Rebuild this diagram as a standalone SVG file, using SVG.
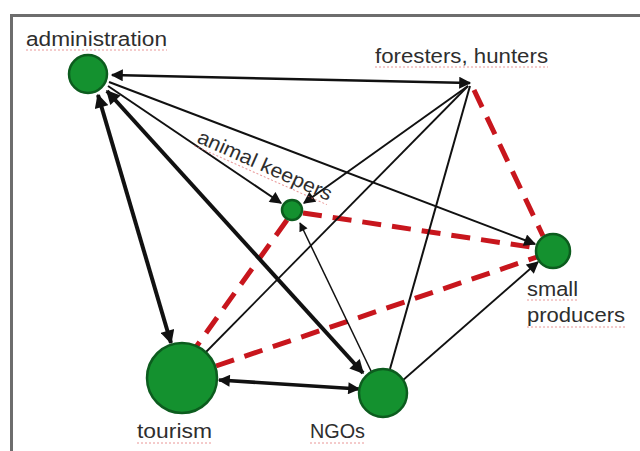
<svg xmlns="http://www.w3.org/2000/svg" width="640" height="451" viewBox="0 0 640 451">
<style>
.lbl{font-family:"Liberation Sans","Open Sans",Arial,sans-serif;font-size:20px;fill:#2e2e2e}
.sq{stroke:#e06a6a;stroke-width:1;stroke-dasharray:2 2;opacity:.7;fill:none}
.e{stroke:#111;fill:none;stroke-linecap:butt}
.d{stroke:#c8161d;stroke-width:5;stroke-dasharray:19 11;fill:none}
.n{fill:#14912f;stroke:#0c5c1e;stroke-width:2.5}
</style>
<defs>
<marker id="aL" viewBox="0 0 10 10" refX="9" refY="5" markerWidth="16" markerHeight="14" markerUnits="userSpaceOnUse" orient="auto-start-reverse"><path d="M0,0 L10,5 L0,10 z" fill="#111"/></marker>
<marker id="aM" viewBox="0 0 10 10" refX="9" refY="5" markerWidth="13" markerHeight="12" markerUnits="userSpaceOnUse" orient="auto-start-reverse"><path d="M0,0 L10,5 L0,10 z" fill="#111"/></marker>
<marker id="aS" viewBox="0 0 10 10" refX="9" refY="5" markerWidth="10" markerHeight="9" markerUnits="userSpaceOnUse" orient="auto-start-reverse"><path d="M0,0 L10,5 L0,10 z" fill="#111"/></marker>
</defs>
<rect width="640" height="451" fill="#fff"/>
<path d="M11.5,451 V15.5 H640" fill="none" stroke="#6d6d6d" stroke-width="3"/>
<g id="connectors">
<line class="d" x1="474" y1="90" x2="543" y2="236"/>
<line class="d" x1="303" y1="213" x2="537" y2="248"/>
<line class="d" x1="287" y1="220" x2="196" y2="347"/>
<line class="d" x1="216" y1="366" x2="537" y2="257"/>
<line class="e" stroke-width="2.5" x1="112" y1="75" x2="470" y2="83" marker-start="url(#aM)" marker-end="url(#aM)"/>
<line class="e" stroke-width="2" x1="108" y1="86" x2="281" y2="203" marker-end="url(#aM)"/>
<line class="e" stroke-width="2" x1="109" y1="82" x2="535" y2="244" marker-end="url(#aM)"/>
<line class="e" stroke-width="4" x1="98" y1="95" x2="171" y2="343" marker-start="url(#aL)" marker-end="url(#aL)"/>
<line class="e" stroke-width="4" x1="107" y1="91" x2="363" y2="373" marker-start="url(#aL)" marker-end="url(#aL)"/>
<line class="e" stroke-width="2" x1="468" y1="86" x2="304" y2="203" marker-end="url(#aM)"/>
<line class="e" stroke-width="1.8" x1="468" y1="86" x2="206" y2="352"/>
<line class="e" stroke-width="2" x1="470" y1="86" x2="390" y2="369"/>
<line class="e" stroke-width="1.5" x1="372" y1="373" x2="300" y2="223" marker-end="url(#aS)"/>
<line class="e" stroke-width="1.8" x1="402" y1="381" x2="538" y2="262" marker-end="url(#aM)"/>
<line class="e" stroke-width="3.5" x1="219" y1="380" x2="359" y2="389" marker-start="url(#aM)" marker-end="url(#aM)"/>
</g>
<g id="administration">
<circle class="n" cx="88" cy="74" r="19"/>
<text class="lbl" x="26" y="46" textLength="141" lengthAdjust="spacingAndGlyphs">administration</text>
<path class="sq" d="M26,50 H167"/>
</g>
<g id="foresters">
<text class="lbl" x="375" y="63" textLength="173" lengthAdjust="spacingAndGlyphs">foresters, hunters</text>
<path class="sq" d="M375,67 H548"/>
</g>
<g id="animal-keepers">
<circle class="n" cx="292" cy="210" r="10"/>
<g transform="translate(196,142) rotate(24)">
<text class="lbl" x="0" y="0" textLength="145" lengthAdjust="spacingAndGlyphs">animal keepers</text>
<path class="sq" d="M0,4 H145"/>
</g>
</g>
<g id="small-producers">
<circle class="n" cx="553" cy="251" r="17"/>
<text class="lbl" x="527" y="296" textLength="51" lengthAdjust="spacingAndGlyphs">small</text>
<text class="lbl" x="527" y="322" textLength="98" lengthAdjust="spacingAndGlyphs">producers</text>
<path class="sq" d="M527,300 H578 M527,327 H625"/>
</g>
<g id="tourism">
<circle class="n" cx="182" cy="378" r="35"/>
<text class="lbl" x="137" y="438" textLength="75" lengthAdjust="spacingAndGlyphs">tourism</text>
<path class="sq" d="M137,443 H212"/>
</g>
<g id="ngos">
<circle class="n" cx="383" cy="393" r="24"/>
<text class="lbl" x="310" y="438" textLength="55" lengthAdjust="spacingAndGlyphs">NGOs</text>
<path class="sq" d="M310,443 H365"/>
</g>
</svg>
